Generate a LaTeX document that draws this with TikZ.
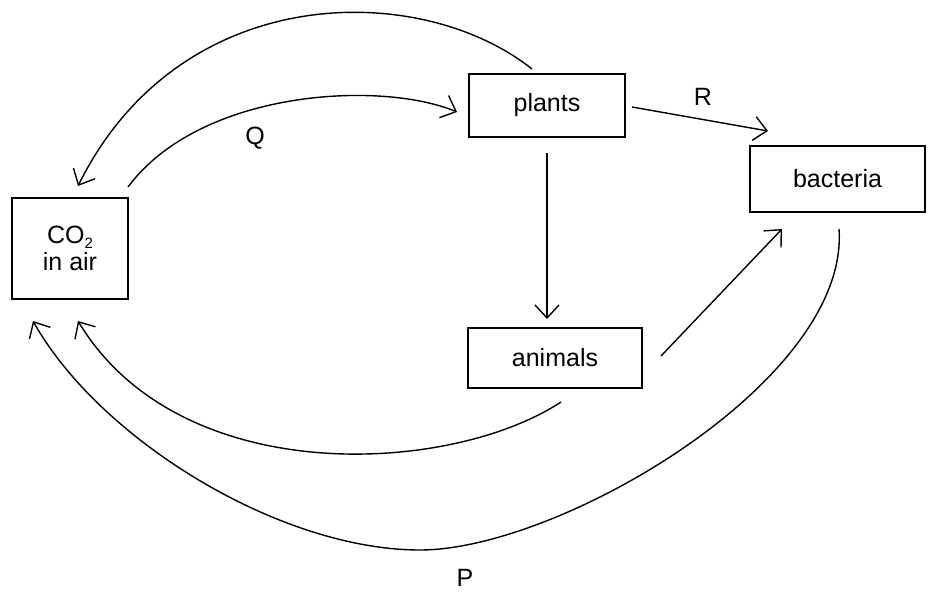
\documentclass[tikz,border=0pt]{standalone}
\usepackage{fontspec}
\setmainfont{Liberation Sans}
\usetikzlibrary{arrows.meta}
\begin{document}
\begin{tikzpicture}[x=1pt,y=-1pt,
  box/.style={draw,line width=1.4pt,inner sep=0pt,font=\fontsize{25}{29}\selectfont},
  lbl/.style={font=\fontsize{25}{29}\selectfont},
  arr/.style={line width=1.4pt,-{Straight Barb[length=13pt,width=24pt,line width=1.4pt]}}]
\useasboundingbox (0,0) rectangle (930,594);
\node[box,minimum width=116pt,minimum height=101pt,align=center] (co2) at (70,248.5) {CO\raisebox{-5pt}{\fontsize{15}{15}\selectfont 2}\\[-2pt]in air};
\node[box,minimum width=156pt,minimum height=63pt] (plants) at (547,105.5) {plants};
\node[box,minimum width=175pt,minimum height=66pt] (bact) at (837.5,179) {bacteria};
\node[box,minimum width=174pt,minimum height=60pt] (anim) at (555,358) {animals};
\coordinate (pt) at (532,69);
\coordinate (c1) at (78,186);
\draw[arr] (pt) .. controls (420,-20) and (180,-20) .. (c1);
\coordinate (c2) at (128,187);
\coordinate (q1) at (457,112);
\draw[arr] (c2) .. controls (200,90) and (380,80) .. (q1);
\node[lbl] (q) at (255,138) {Q};
\coordinate (r0) at (632,107);
\coordinate (r1) at (768,131);
\draw[arr] (r0) -- (r1);
\node[lbl] (r) at (703,97) {R};
\coordinate (a0) at (547,153);
\coordinate (a1) at (547,319);
\draw[arr] (a0) -- (a1);
\coordinate (b0) at (661,356);
\coordinate (b1) at (782,229);
\draw[arr] (b0) -- (b1);
\coordinate (d0) at (561,402);
\coordinate (d1) at (78,321);
\draw[arr] (d0) .. controls (450,475) and (180,490) .. (d1);
\coordinate (e0) at (839,229);
\coordinate (e1) at (33,321);
\draw[arr] (e0) .. controls (850,380) and (560,550) .. (420,550) .. controls (280,550) and (100,440) .. (e1);
\node[lbl] (p) at (465,578) {P};
\end{tikzpicture}
\end{document}
